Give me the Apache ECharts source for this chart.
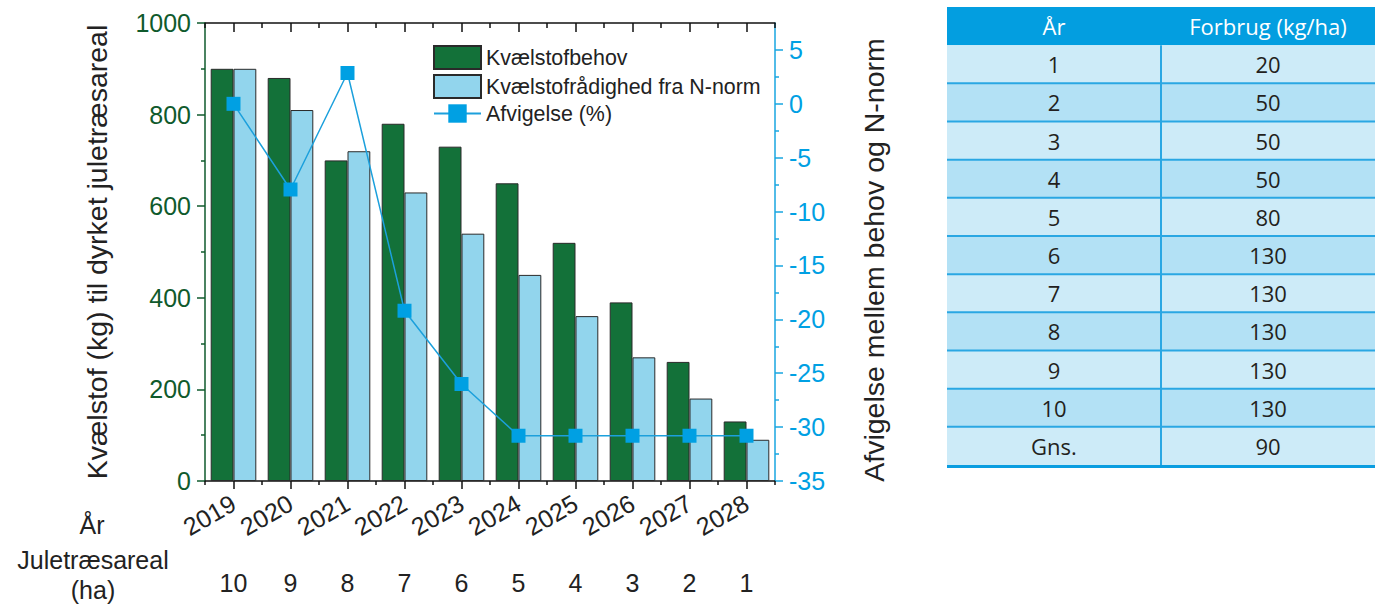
<!DOCTYPE html>
<html>
<head>
<meta charset="utf-8">
<script src="https://cdn.jsdelivr.net/npm/echarts@6/dist/echarts.min.js"></script>
<style>
html,body{margin:0;padding:0;background:#fff;}
#chart{width:1379px;height:605px;}
</style>
</head>
<body>
<div id="chart"></div>
<script>
// ---- data ----
const years = ['2019','2020','2021','2022','2023','2024','2025','2026','2027','2028'];
const kvaelstofbehov = [900, 880, 700, 780, 730, 650, 520, 390, 260, 130];
const kvaelstofraadighed = [900, 810, 720, 630, 540, 450, 360, 270, 180, 90];
const afvigelse = [0, -7.95, 2.86, -19.2, -26.0, -30.8, -30.8, -30.8, -30.8, -30.8];
const juletraesareal = ['10','9','8','7','6','5','4','3','2','1'];
const rightMajorTicks = [-35, -30, -25, -20, -15, -10, -5, 0, 5];
const rightMinorTicks = [-32.5, -27.5, -22.5, -17.5, -12.5, -7.5, -2.5, 2.5];
const tableHeader = ['År', 'Forbrug (kg/ha)'];
const tableAar = ['1','2','3','4','5','6','7','8','9','10','Gns.'];
const tableForbrug = [20, 50, 50, 50, 80, 130, 130, 130, 130, 130, 90];

// ---- styles ----
const FONT = '"Liberation Sans", Arial, sans-serif';
const TFONT = '"Open Sans", "Noto Sans", sans-serif';
const GREEN = '#137139';
const LIGHT = '#92d5ed';
const BLUE = '#00a0e3';
const DKGREEN = '#0f5a2c';
const TXT = '#222222';

const tableRows = ['h'].concat(tableAar);

function renderTable(params, api) {
  const i = params.dataIndex;
  const l = api.coord([0, i]);
  const r = api.coord([2, i]);
  const m = api.coord([1, i]);
  const h = api.size([0, 1])[1];
  const top = l[1] - h / 2;
  const isHeader = i === 0;
  const children = [];
  children.push({
    type: 'rect',
    shape: { x: l[0], y: top, width: r[0] - l[0], height: h },
    style: { fill: isHeader ? '#039ee0' : (i % 2 === 1 ? '#cdebf8' : '#b3e1f5') }
  });
  const t1 = isHeader ? tableHeader[0] : tableAar[i - 1];
  const t2 = isHeader ? tableHeader[1] : String(tableForbrug[i - 1]);
  const col = isHeader ? '#ffffff' : '#231f20';
  children.push({
    type: 'text',
    style: { text: t1, x: (l[0] + m[0]) / 2, y: l[1], align: 'center', verticalAlign: 'middle',
      fill: col, font: '22px ' + TFONT }
  });
  children.push({
    type: 'text',
    style: { text: t2, x: (m[0] + r[0]) / 2, y: l[1], align: 'center', verticalAlign: 'middle',
      fill: col, font: '22px ' + TFONT }
  });
  if (!isHeader) {
    children.push({
      type: 'line',
      shape: { x1: m[0], y1: top, x2: m[0], y2: top + h },
      style: { stroke: '#2aa7e3', lineWidth: 2 }
    });
    if (i > 1) {
      children.push({
        type: 'line',
        shape: { x1: l[0], y1: top, x2: r[0], y2: top },
        style: { stroke: '#2aa7e3', lineWidth: 2 }
      });
    }
    if (i === tableRows.length - 1) {
      children.push({
        type: 'line',
        shape: { x1: l[0], y1: top + h + 1.5, x2: r[0], y2: top + h + 1.5 },
        style: { stroke: '#0a9de0', lineWidth: 3 }
      });
    }
  }
  return { type: 'group', children: children };
}

const chart = echarts.init(document.getElementById('chart'), null, { renderer: 'svg' });

const plain = function (v) { return String(v); };

const option = {
  animation: false,
  backgroundColor: '#ffffff',
  textStyle: { fontFamily: FONT },
  grid: [
    { left: 205, right: 604, top: 23, bottom: 124, containLabel: false },
    { left: 947, top: 7, width: 428, height: 458 }
  ],
  legend: {
    left: 428, top: 40, orient: 'vertical',
    itemWidth: 47, itemHeight: 23, itemGap: 4,
    textStyle: { fontSize: 21.4, color: TXT, fontFamily: FONT },
    data: [
      { name: 'Kvælstofbehov', icon: 'rect' },
      { name: 'Kvælstofrådighed fra N-norm', icon: 'rect' },
      { name: 'Afvigelse (%)' }
    ]
  },
  xAxis: [
    {
      type: 'category', data: years, gridIndex: 0, position: 'bottom',
      axisLine: { onZero: false, lineStyle: { color: '#111', width: 1.5 } },
      axisTick: { show: true, interval: 0, alignWithLabel: true, length: 8, lineStyle: { color: '#111', width: 1.5 } },
      axisLabel: { rotate: 30, interval: 0, hideOverlap: false, fontSize: 25, color: TXT, margin: 20, fontFamily: FONT }
    },
    {
      type: 'category', data: years, gridIndex: 0, position: 'bottom',
      axisLine: { show: false, onZero: false },
      axisTick: { show: true, interval: 0, length: 4, lineStyle: { color: '#111', width: 1.5 } },
      axisLabel: { show: false }
    },
    {
      type: 'category', data: years, gridIndex: 0, position: 'top',
      axisLine: { onZero: false, lineStyle: { color: '#111', width: 1.5 } },
      axisTick: { show: true, inside: true, interval: 0, alignWithLabel: true, length: 9, lineStyle: { color: '#111', width: 1.5 } },
      axisLabel: { show: false }
    },
    {
      type: 'category', data: years, gridIndex: 0, position: 'top',
      axisLine: { show: false, onZero: false },
      axisTick: { show: true, inside: true, interval: 0, length: 5, lineStyle: { color: '#111', width: 1.5 } },
      axisLabel: { show: false }
    },
    {
      type: 'category', data: juletraesareal, gridIndex: 0, position: 'bottom',
      axisLine: { show: false, onZero: false }, axisTick: { show: false },
      axisLabel: { interval: 0, fontSize: 25, color: TXT, margin: 89, fontFamily: FONT }
    },
    {
      type: 'value', gridIndex: 1, min: 0, max: 2, show: false
    }
  ],
  yAxis: [
    {
      type: 'value', gridIndex: 0, position: 'left', min: 0, max: 1000, interval: 200,
      name: 'Kvælstof (kg) til dyrket juletræsareal', nameLocation: 'middle', nameGap: 94,
      nameTextStyle: { fontSize: 28.5, color: TXT, fontFamily: FONT },
      axisLine: { show: true, onZero: false, lineStyle: { color: DKGREEN, width: 1.5 } },
      axisTick: { show: true, length: 8, lineStyle: { color: DKGREEN, width: 1.5 } },
      minorTick: { show: true, splitNumber: 2, length: 4, lineStyle: { color: DKGREEN, width: 1.5 } },
      axisLabel: { fontSize: 25, color: DKGREEN, margin: 14, fontFamily: FONT, formatter: plain },
      splitLine: { show: false }
    },
    {
      type: 'value', gridIndex: 0, position: 'right', min: -35, max: 7.5, interval: 5,
      name: 'Afvigelse mellem behov og N-norm', nameLocation: 'middle', nameGap: 84, nameRotate: 90,
      nameTextStyle: { fontSize: 28.5, color: TXT, fontFamily: FONT, padding: [0, 16, 0, 0] },
      axisLine: { show: true, onZero: false, lineStyle: { color: '#19a6e0', width: 1.5 } },
      axisTick: { show: true, length: 8, customValues: rightMajorTicks, lineStyle: { color: '#19a6e0', width: 1.5 } },
      axisLabel: { fontSize: 25, color: BLUE, margin: 14, customValues: rightMajorTicks, fontFamily: FONT, formatter: plain },
      splitLine: { show: false }
    },
    {
      type: 'value', gridIndex: 0, position: 'right', min: -35, max: 7.5, interval: 2.5,
      axisLine: { show: false, onZero: false },
      axisTick: { show: true, length: 4, customValues: rightMinorTicks, lineStyle: { color: '#19a6e0', width: 1.5 } },
      axisLabel: { show: false },
      splitLine: { show: false }
    },
    {
      type: 'category', gridIndex: 1, data: tableRows, inverse: true, show: false
    }
  ],
  graphic: [
    { type: 'text', x: 92, y: 525, style: { text: 'År', font: '25px ' + FONT, fill: TXT, align: 'center', verticalAlign: 'middle' } },
    { type: 'text', x: 93, y: 560, style: { text: 'Juletræsareal', font: '25px ' + FONT, fill: TXT, align: 'center', verticalAlign: 'middle' } },
    { type: 'text', x: 93, y: 590, style: { text: '(ha)', font: '25px ' + FONT, fill: TXT, align: 'center', verticalAlign: 'middle' } }
  ],
  series: [
    {
      name: 'Kvælstofbehov', type: 'bar', xAxisIndex: 0, yAxisIndex: 0,
      data: kvaelstofbehov, barGap: '0%', barCategoryGap: '20%',
      itemStyle: { color: GREEN, borderColor: '#2a2a2a', borderWidth: 1 }
    },
    {
      name: 'Kvælstofrådighed fra N-norm', type: 'bar', xAxisIndex: 0, yAxisIndex: 0,
      data: kvaelstofraadighed, barGap: '0%', barCategoryGap: '20%',
      itemStyle: { color: LIGHT, borderColor: '#2a2a2a', borderWidth: 1 }
    },
    {
      name: 'Afvigelse (%)', type: 'line', xAxisIndex: 0, yAxisIndex: 1,
      data: afvigelse, symbol: 'rect', symbolSize: 14, z: 5,
      itemStyle: { color: BLUE },
      lineStyle: { color: '#1ca0dc', width: 1.5 }
    },
    {
      type: 'custom', xAxisIndex: 5, yAxisIndex: 3,
      renderItem: renderTable,
      data: tableRows.map(function (_, i) { return [0, i]; }),
      encode: { x: 0, y: 1 },
      silent: true
    }
  ]
};
chart.setOption(option);
</script>
</body>
</html>
